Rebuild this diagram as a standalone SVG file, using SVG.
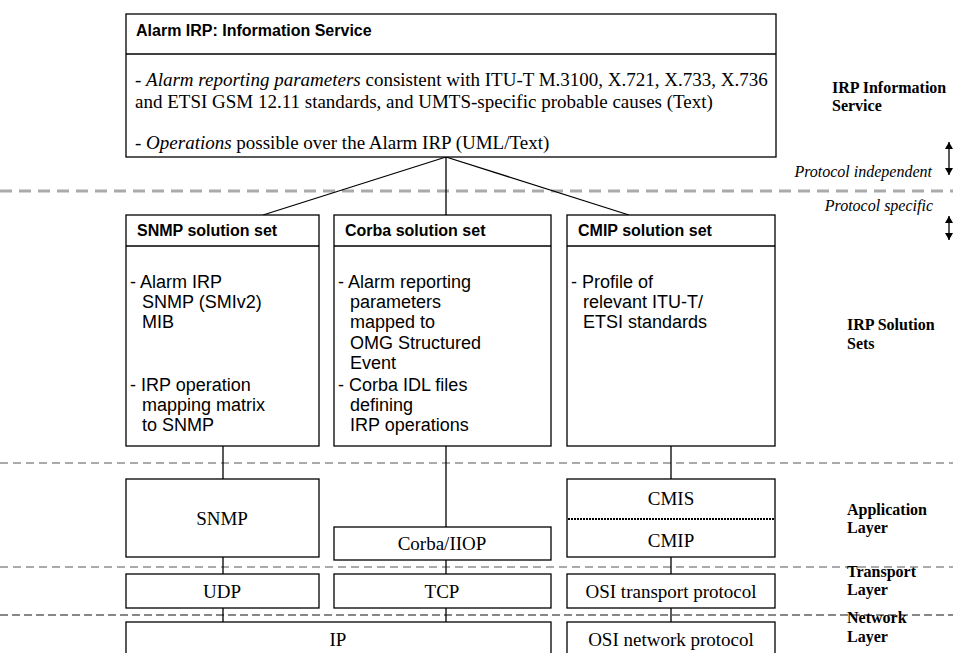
<svg xmlns="http://www.w3.org/2000/svg" width="953" height="653" viewBox="0 0 953 653">
<style>
.box{fill:#fff;stroke:#000;stroke-width:1.3}
.ln{stroke:#000;stroke-width:1.3;fill:none}
.hd{font-family:"Liberation Sans",Arial,sans-serif;font-weight:bold;font-size:16px}
.bd{font-family:"Liberation Sans",Arial,sans-serif;font-size:18px}
.tm{font-family:"Liberation Serif","Times New Roman",serif;font-size:19px}
.tc{font-family:"Liberation Serif","Times New Roman",serif;font-size:19px;text-anchor:middle}
.lb{font-family:"Liberation Serif","Times New Roman",serif;font-weight:bold;font-size:16px}
.it{font-family:"Liberation Serif","Times New Roman",serif;font-style:italic;font-size:16px;text-anchor:end}
.d1{stroke:#aaa;stroke-width:3;stroke-dasharray:12 7}
.d2{stroke:#aaa;stroke-width:2;stroke-dasharray:8 5}
.d3{stroke:#888;stroke-width:2;stroke-dasharray:8 4}
</style>
<defs>
<marker id="ah" viewBox="0 0 8 9" refX="8" refY="4.5" markerUnits="userSpaceOnUse" markerWidth="9" markerHeight="8" orient="auto-start-reverse">
<path d="M0,0 L8,4.5 L0,9 z" fill="#000"/>
</marker>
</defs>

<g id="separators">
<line class="d1" x1="0" y1="191" x2="953" y2="191"/>
<line class="d2" x1="0" y1="463" x2="953" y2="463"/>
<line class="d2" x1="0" y1="567" x2="953" y2="567"/>
<line class="d3" x1="0" y1="615" x2="953" y2="615"/>
</g>

<g id="connectors">
<line class="ln" x1="446" y1="157" x2="263" y2="215"/>
<line class="ln" x1="446" y1="157" x2="446" y2="215"/>
<line class="ln" x1="446" y1="157" x2="629" y2="215"/>
<line class="ln" x1="223" y1="446" x2="223" y2="479"/>
<line class="ln" x1="446" y1="446" x2="446" y2="527"/>
<line class="ln" x1="671" y1="446" x2="671" y2="479"/>
<line class="ln" x1="223" y1="557" x2="223" y2="574"/>
<line class="ln" x1="446" y1="560" x2="446" y2="574"/>
<line class="ln" x1="671" y1="557" x2="671" y2="574"/>
<line class="ln" x1="223" y1="608" x2="223" y2="622"/>
<line class="ln" x1="446" y1="608" x2="446" y2="622"/>
<line class="ln" x1="671" y1="608" x2="671" y2="622"/>
<line class="ln" stroke-width="1.6" x1="949" y1="142" x2="949" y2="175" marker-start="url(#ah)" marker-end="url(#ah)"/>
<line class="ln" stroke-width="1.6" x1="949" y1="216" x2="949" y2="240" marker-start="url(#ah)" marker-end="url(#ah)"/>
</g>

<g id="info-service">
<rect class="box" x="126" y="14" width="650" height="143"/>
<line class="ln" x1="126" y1="54" x2="776" y2="54"/>
<text class="hd" x="136" y="36">Alarm IRP: Information Service</text>
<text class="tm"><tspan x="135" y="86">- <tspan font-style="italic">Alarm reporting parameters</tspan> consistent with ITU-T M.3100, X.721, X.733, X.736</tspan><tspan x="135" y="108">and ETSI GSM 12.11 standards, and UMTS-specific probable causes (Text)</tspan></text>
<text class="tm" x="135" y="149">- <tspan font-style="italic">Operations</tspan> possible over the Alarm IRP (UML/Text)</text>
</g>

<g id="snmp-set">
<rect class="box" x="126" y="215" width="193" height="231"/>
<line class="ln" x1="126" y1="246" x2="319" y2="246"/>
<text class="hd" x="137" y="236">SNMP solution set</text>
<text class="bd"><tspan x="130" y="288">- Alarm IRP</tspan><tspan x="142" y="308.2">SNMP (SMIv2)</tspan><tspan x="142" y="328.4">MIB</tspan></text>
<text class="bd"><tspan x="130" y="391">- IRP operation</tspan><tspan x="142" y="411.2">mapping matrix</tspan><tspan x="142" y="431.4">to SNMP</tspan></text>
</g>

<g id="corba-set">
<rect class="box" x="334" y="215" width="217" height="231"/>
<line class="ln" x1="334" y1="246" x2="551" y2="246"/>
<text class="hd" x="345" y="236">Corba solution set</text>
<text class="bd"><tspan x="338" y="288">- Alarm reporting</tspan><tspan x="350" y="308.2">parameters</tspan><tspan x="350" y="328.4">mapped to</tspan><tspan x="350" y="348.6">OMG Structured</tspan><tspan x="350" y="368.8">Event</tspan></text>
<text class="bd"><tspan x="338" y="391">- Corba IDL files</tspan><tspan x="350" y="411.2">defining</tspan><tspan x="350" y="431.4">IRP operations</tspan></text>
</g>

<g id="cmip-set">
<rect class="box" x="567" y="215" width="208" height="231"/>
<line class="ln" x1="567" y1="246" x2="775" y2="246"/>
<text class="hd" x="578" y="236">CMIP solution set</text>
<text class="bd"><tspan x="571" y="288">- Profile of</tspan><tspan x="583" y="308.2">relevant ITU-T/</tspan><tspan x="583" y="328.4">ETSI standards</tspan></text>
</g>

<g id="snmp">
<rect class="box" x="126" y="479" width="193" height="78"/>
<text class="tc" x="222" y="525">SNMP</text>
</g>
<g id="corba-iiop">
<rect class="box" x="334" y="527" width="217" height="33"/>
<text class="tc" x="442" y="550">Corba/IIOP</text>
</g>
<g id="cmis-cmip">
<rect class="box" x="567" y="479" width="208" height="78"/>
<line x1="568" y1="519" x2="774" y2="519" stroke="#000" stroke-width="2" stroke-dasharray="2 1"/>
<text class="tc" x="671" y="505">CMIS</text>
<text class="tc" x="671" y="547">CMIP</text>
</g>

<g id="udp">
<rect class="box" x="126" y="574" width="193" height="34"/>
<text class="tc" x="222" y="598">UDP</text>
</g>
<g id="tcp">
<rect class="box" x="334" y="574" width="217" height="34"/>
<text class="tc" x="442" y="598">TCP</text>
</g>
<g id="osi-transport">
<rect class="box" x="567" y="574" width="208" height="34"/>
<text class="tc" x="671" y="598">OSI transport protocol</text>
</g>

<g id="ip">
<rect class="box" x="126" y="622" width="425" height="45"/>
<text class="tc" x="338" y="646">IP</text>
</g>
<g id="osi-network">
<rect class="box" x="567" y="622" width="208" height="45"/>
<text class="tc" x="671" y="646">OSI network protocol</text>
</g>

<g id="labels">
<text class="lb"><tspan x="832" y="93">IRP Information</tspan><tspan x="832" y="111">Service</tspan></text>
<text class="it" x="932" y="177">Protocol independent</text>
<text class="it" x="933" y="211">Protocol specific</text>
<text class="lb"><tspan x="847" y="330">IRP Solution</tspan><tspan x="847" y="349">Sets</tspan></text>
<text class="lb"><tspan x="847" y="515">Application</tspan><tspan x="847" y="533">Layer</tspan></text>
<text class="lb"><tspan x="847" y="577">Transport</tspan><tspan x="847" y="595">Layer</tspan></text>
<text class="lb"><tspan x="847" y="623">Network</tspan><tspan x="847" y="642">Layer</tspan></text>
</g>
</svg>
